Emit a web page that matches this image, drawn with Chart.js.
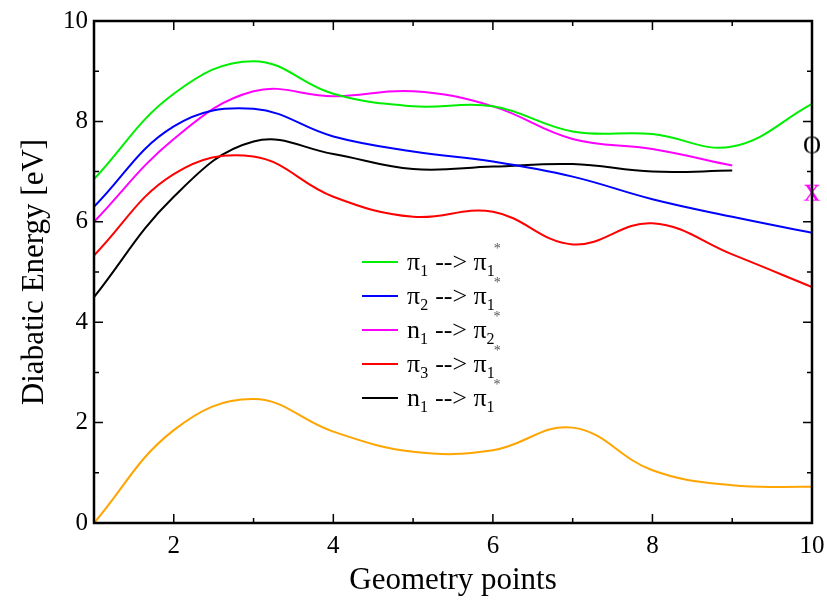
<!DOCTYPE html>
<html>
<head>
<meta charset="utf-8">
<script src="https://cdn.jsdelivr.net/npm/chart.js@4/dist/chart.umd.min.js"></script>
<style>
  html, body { margin: 0; padding: 0; background: #fff; }
  #wrap { width: 827px; height: 603px; }
</style>
</head>
<body>
<div id="wrap"><canvas id="myChart" width="827" height="603"></canvas></div>
<script>
// geometry points
const points = [1, 2, 3, 4, 5, 6, 7, 8, 9, 10];
const pi1_pi1 = [6.85, 8.55, 9.2, 8.55, 8.3, 8.3, 7.8, 7.75, 7.5, 8.35];
const pi2_pi1 = [6.3, 7.9, 8.25, 7.7, 7.4, 7.2, 6.9, 6.45, 6.1, 5.78];
const n1_pi2 = [6.0, 7.65, 8.6, 8.5, 8.6, 8.3, 7.65, 7.45, 7.12];
const pi3_pi1 = [5.33, 6.95, 7.3, 6.5, 6.1, 6.2, 5.55, 5.97, 5.35, 4.7];
const n1_pi1 = [4.5, 6.5, 7.6, 7.35, 7.05, 7.1, 7.15, 7.0, 7.02];
const ground = [0.0, 1.85, 2.47, 1.82, 1.42, 1.45, 1.9, 1.05, 0.75, 0.72];
// single markers at the last geometry point
const markerO = [{ x: 10, y: 7.5 }];
const markerX = [{ x: 10, y: 6.6 }];

const xTicks = [2, 4, 6, 8, 10];
const yTicks = [0, 2, 4, 6, 8, 10];

const legendItems = [
  { a: "π", as: "1", b: "π", bs: "1", color: "#00ee00" },
  { a: "π", as: "2", b: "π", bs: "1", color: "#0000ff" },
  { a: "n", as: "1", b: "π", bs: "2", color: "#ff00ff" },
  { a: "π", as: "3", b: "π", bs: "1", color: "#ff0000" },
  { a: "n", as: "1", b: "π", bs: "1", color: "#000000" },
];

const serif = "'Liberation Serif', 'DejaVu Serif', serif";

function xy(vals) {
  return vals.map((v, i) => ({ x: points[i], y: v }));
}

function glyph(txt, color, size, fsize) {
  var c = document.createElement("canvas");
  c.width = size;
  c.height = size;
  var g = c.getContext("2d");
  g.fillStyle = color;
  g.font = fsize + "px " + serif;
  g.textAlign = "center";
  g.textBaseline = "middle";
  g.fillText(txt, size / 2, size / 2);
  return c;
}

// inward ticks on all four sides + frame
const frameTicks = {
  id: "frameTicks",
  afterDatasetsDraw(chart) {
    const ctx = chart.ctx;
    const a = chart.chartArea;
    const xs = chart.scales.x;
    const ys = chart.scales.y;
    ctx.save();
    ctx.strokeStyle = "#000";
    ctx.lineWidth = 1.5;
    ctx.beginPath();
    for (let v = 2; v <= 9; v++) {
      const len = v % 2 == 0 ? 9 : 5;
      const px = xs.getPixelForValue(v);
      ctx.moveTo(px, a.bottom); ctx.lineTo(px, a.bottom - len);
      ctx.moveTo(px, a.top); ctx.lineTo(px, a.top + len);
    }
    for (let v = 1; v <= 9; v++) {
      const len = v % 2 == 0 ? 9 : 5;
      const py = ys.getPixelForValue(v);
      ctx.moveTo(a.left, py); ctx.lineTo(a.left + len, py);
      ctx.moveTo(a.right, py); ctx.lineTo(a.right - len, py);
    }
    ctx.stroke();
    ctx.lineWidth = 2.5;
    ctx.strokeRect(a.left, a.top, a.right - a.left, a.bottom - a.top);
    ctx.restore();
  },
};

// legend with sub/superscripts
const subLegend = {
  id: "subLegend",
  afterDraw(chart) {
    const ctx = chart.ctx;
    let y = 262;
    const x0 = 362;
    ctx.save();
    ctx.textBaseline = "alphabetic";
    legendItems.forEach((it) => {
      ctx.strokeStyle = it.color;
      ctx.lineWidth = 2;
      ctx.beginPath();
      ctx.moveTo(x0, y);
      ctx.lineTo(x0 + 36, y);
      ctx.stroke();
      ctx.fillStyle = "#000";
      let x = x0 + 45;
      const base = y + 8;
      ctx.font = "26px " + serif;
      ctx.fillText(it.a, x, base);
      x += ctx.measureText(it.a).width;
      ctx.font = "16px " + serif;
      ctx.fillText(it.as, x, base + 6);
      x += ctx.measureText(it.as).width + 7;
      ctx.font = "26px " + serif;
      ctx.fillText("-->", x, base);
      x += ctx.measureText("--> ").width;
      ctx.fillText(it.b, x, base);
      x += ctx.measureText(it.b).width;
      ctx.font = "16px " + serif;
      ctx.fillText(it.bs, x, base + 6);
      x += ctx.measureText(it.bs).width;
      ctx.fillStyle = "#555";
      ctx.font = "14px " + serif;
      ctx.fillText("*", x - 1, base - 17);
      y += 34;
    });
    ctx.restore();
  },
};

function line(label, vals, color) {
  return {
    label: label,
    data: xy(vals),
    borderColor: color,
    borderWidth: 2,
    pointRadius: 0,
    tension: 0.4,
    fill: false,
    showLine: true,
  };
}

var ctx = document.getElementById("myChart");
var myChart = new Chart(ctx, {
  type: "scatter",
  data: {
    datasets: [
      line("π1 --> π1*", pi1_pi1, "#00ee00"),
      line("π2 --> π1*", pi2_pi1, "#0000ff"),
      line("n1 --> π2*", n1_pi2, "#ff00ff"),
      line("π3 --> π1*", pi3_pi1, "#ff0000"),
      line("n1 --> π1*", n1_pi1, "#000000"),
      line("ground", ground, "#ffa500"),
      {
        label: "O",
        data: markerO,
        pointStyle: glyph("O", "#000", 30, 25),
        pointRadius: 1,
        borderWidth: 0,
        showLine: false,
        clip: false,
      },
      {
        label: "x",
        data: markerX,
        pointStyle: glyph("x", "#ff00ff", 36, 34),
        pointRadius: 1,
        borderWidth: 0,
        showLine: false,
        clip: false,
      },
    ],
  },
  plugins: [frameTicks, subLegend],
  options: {
    responsive: false,
    animation: false,
    layout: { padding: { top: 21, right: 15, left: 0, bottom: 0 } },
    plugins: {
      legend: { display: false },
      tooltip: { enabled: false },
    },
    scales: {
      x: {
        type: "linear",
        min: 1,
        max: 10,
        afterBuildTicks: (s) => { s.ticks = xTicks.map((v) => ({ value: v })); },
        afterFit: (s) => {
          s.height = 80;
          s.paddingLeft = 0;
          s.paddingRight = 0;
        },
        grid: { display: false, drawTicks: false },
        border: { display: false },
        ticks: { color: "#000", font: { family: serif, size: 25 }, padding: 8 },
        title: {
          display: true,
          text: "Geometry points",
          color: "#000",
          font: { family: serif, size: 31 },
          padding: { top: 9 },
        },
      },
      y: {
        min: 0,
        max: 10,
        afterBuildTicks: (s) => { s.ticks = yTicks.map((v) => ({ value: v })); },
        afterFit: (s) => {
          s.width = 94;
          s.paddingTop = 0;
          s.paddingBottom = 0;
        },
        grid: { display: false, drawTicks: false },
        border: { display: false },
        ticks: { color: "#000", font: { family: serif, size: 25 }, padding: 6 },
        title: {
          display: true,
          text: "Diabatic Energy [eV]",
          color: "#000",
          font: { family: serif, size: 31 },
          padding: { top: 16, bottom: 0 },
        },
      },
    },
  },
});
</script>
</body>
</html>
